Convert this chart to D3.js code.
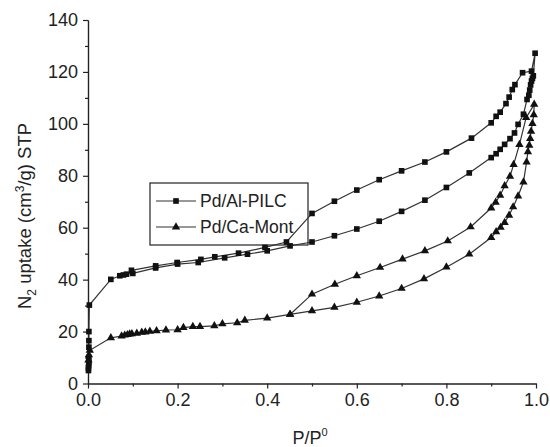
<!DOCTYPE html>
<meta charset="utf-8">
<html>
<head>
  <title>N2 isotherms</title>
  <script src="https://d3js.org/d3.v7.min.js"></script>
</head>
<style>
  body { margin: 0; background: #fff; }
  text { font-family: 'Liberation Sans', Arial, sans-serif; fill: #222; }
</style>
<body>
<script>

// Pd/Al-PILC, adsorption then desorption (P/P0, uptake)
var pilcP = [0.001, 0.001, 0.0015, 0.002, 0.002, 0.002, 0.002, 0.002, 0.003, 0.051, 0.071, 0.079, 0.086, 0.1, 0.151, 0.2, 0.246, 0.305, 0.356, 0.4, 0.451, 0.5, 0.55, 0.6, 0.65, 0.7, 0.752, 0.8, 0.851, 0.9, 0.911, 0.92, 0.93, 0.942, 0.952, 0.96, 0.972, 0.98, 0.984, 0.986, 0.988, 0.99, 0.992, 0.994, 0.998,
             0.99, 0.97, 0.953, 0.947, 0.94, 0.933, 0.92, 0.911, 0.9, 0.856, 0.8, 0.752, 0.7, 0.65, 0.6, 0.55, 0.5, 0.443, 0.395, 0.336, 0.283, 0.252, 0.199, 0.151, 0.097];
var pilcV = [5, 6, 7, 8, 10, 14, 16.5, 20, 30.2, 40.1, 41.5, 41.8, 42.1, 42.4, 44.5, 46.0, 46.6, 48.4, 49.8, 51.1, 53.0, 54.5, 56.9, 59.5, 62.5, 66.3, 70.6, 75.5, 81.1, 87, 88.5, 90.2, 92.1, 94.3, 96.5, 99.8, 103.7, 109.4, 111, 113, 115, 116.5, 117.5, 118.5, 127.2,
             120.3, 119.7, 115.1, 113.2, 110.3, 107.8, 104.5, 102.9, 100.4, 94.5, 89.2, 85.3, 81.9, 78.5, 74.5, 70.2, 65.5, 54.5, 52.4, 50.2, 48.8, 47.8, 46.6, 45.3, 43.6];

// Pd/Ca-Mont, adsorption then desorption
var montP = [0.001, 0.002, 0.004, 0.051, 0.075, 0.082, 0.088, 0.093, 0.098, 0.109, 0.12, 0.128, 0.138, 0.153, 0.174, 0.2, 0.213, 0.234, 0.25, 0.282, 0.3, 0.333, 0.35, 0.4, 0.451, 0.5, 0.55, 0.6, 0.65, 0.7, 0.75, 0.8, 0.851, 0.9, 0.911, 0.921, 0.93, 0.94, 0.949, 0.96, 0.972, 0.979, 0.982, 0.985, 0.987, 0.989, 0.992, 0.995, 0.996,
             0.978, 0.963, 0.95, 0.942, 0.93, 0.92, 0.91, 0.9, 0.854, 0.803, 0.752, 0.702, 0.652, 0.6, 0.551, 0.5, 0.451];
var montV = [9, 11, 12.8, 17.6, 18.3, 18.6, 18.8, 19.0, 19.1, 19.3, 19.7, 19.8, 20.1, 20.3, 20.6, 20.7, 21.5, 21.9, 21.9, 22.2, 23.0, 23.4, 24.3, 25.2, 26.6, 28, 29.3, 31.3, 33.7, 36.6, 40.3, 44.8, 49.8, 56.2, 58.4, 60.1, 62, 64.8, 68, 72.2, 77.6, 85.3, 89.2, 91.7, 94.3, 97.1, 100.1, 103.5, 107.5,
             102.4, 92, 84.3, 79.8, 76.1, 72.5, 69.8, 67.6, 60.3, 54.9, 51.1, 47.9, 44.7, 41.5, 38.2, 34.4, 26.6];

var seriesNames = ["Pd/Al-PILC", "Pd/Ca-Mont"];
var xTicks = [0, 0.2, 0.4, 0.6, 0.8, 1.0];
var yTicks = [0, 20, 40, 60, 80, 100, 120, 140];

var width = 550, height = 447;
var x = d3.scaleLinear().domain([0, 1]).range([88, 536]);
var y = d3.scaleLinear().domain([0, 140]).range([383.5, 20]);

var svg = d3.select("body").append("svg")
    .attr("width", width)
    .attr("height", height);

// axes
svg.append("g")
    .attr("transform", "translate(0," + y(0) + ")")
    .call(d3.axisBottom(x).tickValues(d3.range(0.1, 1, 0.2)).tickSize(3).tickSizeOuter(0).tickFormat(""));
svg.append("g")
    .attr("transform", "translate(0," + y(0) + ")")
    .call(d3.axisBottom(x).tickValues(xTicks).tickSize(5).tickSizeOuter(0).tickPadding(5).tickFormat(d3.format(".1f")));
svg.append("g")
    .attr("transform", "translate(" + x(0) + ",0)")
    .call(d3.axisLeft(y).tickValues(d3.range(10, 140, 20)).tickSize(3).tickSizeOuter(0).tickFormat(""));
svg.append("g")
    .attr("transform", "translate(" + x(0) + ",0)")
    .call(d3.axisLeft(y).tickValues(yTicks).tickSize(5).tickSizeOuter(0).tickPadding(5));

svg.selectAll(".domain, .tick line").attr("stroke", "#222").attr("stroke-width", 1.2);
svg.selectAll(".tick text").attr("font-size", 18).attr("fill", "#222");

// axis titles
var yt = svg.append("text")
    .attr("transform", "translate(31,216) rotate(-90)")
    .attr("text-anchor", "middle")
    .attr("font-size", 18.5);
yt.append("tspan").text("N");
yt.append("tspan").attr("font-size", 12).attr("dy", 5).text("2");
yt.append("tspan").attr("dy", -5).text(" uptake (cm");
yt.append("tspan").attr("font-size", 12).attr("dy", -7).text("3");
yt.append("tspan").attr("dy", 7).text("/g) STP");

var xt = svg.append("text")
    .attr("x", 310).attr("y", 444)
    .attr("text-anchor", "middle")
    .attr("font-size", 18);
xt.append("tspan").text("P/P");
xt.append("tspan").attr("font-size", 11).attr("dy", -8).text("0");

// data
function pts(P, V) { return P.map(function (p, i) { return [p, V[i]]; }); }
var pilc = pts(pilcP, pilcV);
var mont = pts(montP, montV);

var line = d3.line().x(function (d) { return x(d[0]); }).y(function (d) { return y(d[1]); });
var sq = d3.symbol().type(d3.symbolSquare).size(32);
var tri = d3.symbol().type(d3.symbolTriangle).size(30);

// legend (drawn first, lines run over it)
var lg = svg.append("g").attr("transform", "translate(150,183)");
lg.append("rect").attr("width", 158).attr("height", 62)
    .attr("fill", "#fff").attr("stroke", "#222").attr("stroke-width", 1.2);
var item = lg.selectAll(".item").data(seriesNames).enter().append("g")
    .attr("transform", function (d, i) { return "translate(0," + (18 + i * 26) + ")"; });
item.append("line").attr("x1", 6).attr("x2", 46)
    .attr("stroke", "#333").attr("stroke-width", 1.2);
item.append("path")
    .attr("d", function (d, i) { return i === 0 ? sq() : tri(); })
    .attr("transform", "translate(26,0)")
    .attr("fill", "#111");
item.append("text").attr("x", 50).attr("dy", 6)
    .attr("font-size", 17.5)
    .text(function (d) { return d; });

svg.append("path").datum(pilc).attr("d", line)
    .attr("fill", "none").attr("stroke", "#333").attr("stroke-width", 1.2);
svg.append("path").datum(mont).attr("d", line)
    .attr("fill", "none").attr("stroke", "#333").attr("stroke-width", 1.2);

svg.selectAll(".sq").data(pilc).enter().append("path")
    .attr("class", "sq")
    .attr("d", sq)
    .attr("transform", function (d) { return "translate(" + x(d[0]) + "," + y(d[1]) + ")"; })
    .attr("fill", "#111");
svg.selectAll(".tri").data(mont).enter().append("path")
    .attr("class", "tri")
    .attr("d", tri)
    .attr("transform", function (d) { return "translate(" + x(d[0]) + "," + y(d[1]) + ")"; })
    .attr("fill", "#111");

</script>
</body>
</html>
